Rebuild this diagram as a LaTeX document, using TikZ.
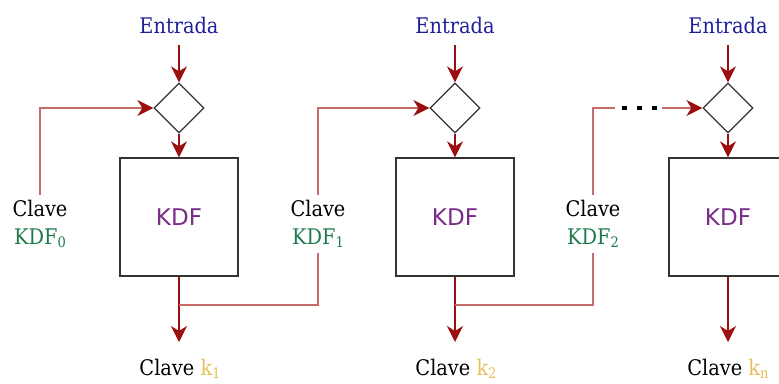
\documentclass[tikz,border=0pt]{standalone}
\usepackage{fontspec}
\setmainfont{DejaVu Serif Condensed}
\newfontfamily\kdffont{DejaVu Sans}
\usetikzlibrary{shapes.geometric,arrows.meta}
\definecolor{entblue}{HTML}{20209A}
\definecolor{keygreen}{HTML}{1E7A4C}
\definecolor{kdfpurple}{HTML}{7B2C8B}
\definecolor{kgold}{HTML}{E6BF5A}
\definecolor{darkred}{HTML}{9C0F0F}
\definecolor{lightred}{HTML}{C86A6A}
\definecolor{edgegray}{HTML}{333333}
\newcommand\lowsub[1]{\raisebox{-3.5pt}{\fontsize{14.5}{15}\selectfont #1}}
\tikzset{
  txt/.style={font=\fontsize{21.5}{28}\selectfont, inner sep=0pt},
  entlabel/.style={txt, text=entblue, anchor=base},
  outlabel/.style={txt, anchor=base},
  keylabel/.style={txt, align=center, inner xsep=0pt, inner ysep=5pt},
  mix/.style={diamond, draw=edgegray, line width=1.3pt, minimum width=50pt, minimum height=50pt, inner sep=0pt},
  kdfbox/.style={rectangle, draw=edgegray, line width=1.3pt, minimum width=118pt, minimum height=118pt, inner sep=0pt, font=\kdffont\fontsize{23}{26}\selectfont, text=kdfpurple},
  tip/.style={-{Stealth[length=16pt,width=16pt,inset=5pt,color=darkred]}},
  arrowline/.style={draw=darkred, line width=1.6pt, tip},
  keyline/.style={draw=lightred, line width=1.6pt},
  keyarrow/.style={keyline, tip},
}
\begin{document}
\begin{tikzpicture}[x=1pt,y=-1pt]
\useasboundingbox (0,0) rectangle (779,383);
% block positions
\foreach \i/\x in {1/179,2/455,3/728}{
  \node[entlabel] (e\i) at (\x,33) {Entrada};
  \node[mix] (d\i) at (\x,108) {};
  \node[kdfbox] (b\i) at (\x,217) {KDF};
  \coordinate (t\i) at (\x,342);
  \coordinate (j\i) at (\x,305);
  \draw[arrowline] (\x,45) -- (d\i.north);
  \draw[arrowline] (d\i.south) -- (b\i.north);
  \draw[arrowline] (b\i.south) -- (t\i);
}
\node[outlabel] (o1) at (180,375) {Clave \textcolor{kgold}{k\lowsub{1}}};
\node[outlabel] (o2) at (456,375) {Clave \textcolor{kgold}{k\lowsub{2}}};
\node[outlabel] (o3) at (728,375) {Clave \textcolor{kgold}{k\lowsub{n}}};
% key labels
\node[keylabel] (k0) at (40,224) {Clave\\\textcolor{keygreen}{KDF\lowsub{0}}};
\node[keylabel] (k1) at (318,224) {Clave\\\textcolor{keygreen}{KDF\lowsub{1}}};
\node[keylabel] (k2) at (593,224) {Clave\\\textcolor{keygreen}{KDF\lowsub{2}}};
% key lines
\draw[keyarrow] (k0.north) |- (d1.west);
\draw[keyarrow] (k1.north) |- (d2.west);
\draw[keyline] (k1.south) |- (j1);
\draw[keyline] (k2.south) |- (j2);
\coordinate (g1) at (615,108);
\coordinate (g2) at (662,108);
\coordinate (p1) at (622,108);
\coordinate (p2) at (657,108);
\draw[keyline] (k2.north) |- (g1);
\draw[line width=4.5pt, dash pattern=on 5pt off 10pt] (p1) -- (p2);
\draw[keyarrow] (g2) -- (d3.west);
\end{tikzpicture}
\end{document}
